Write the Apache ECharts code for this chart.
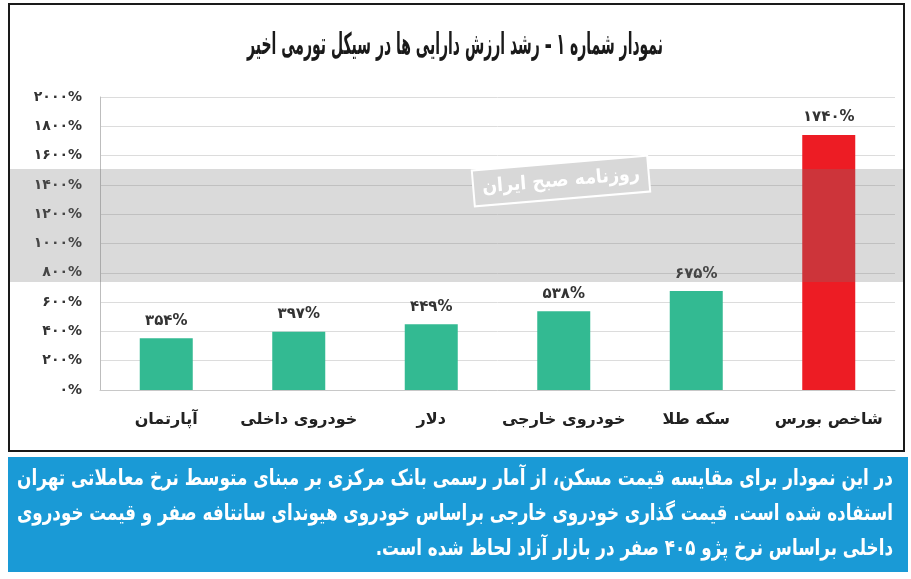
<!DOCTYPE html>
<html>
<head>
<meta charset="utf-8">
<script src="https://cdn.jsdelivr.net/npm/echarts@6/dist/echarts.min.js"></script>
<style>
html,body{margin:0;padding:0;background:#fff;}
#c{width:911px;height:579px;}
</style>
</head>
<body>
<div id="c" dir="rtl"></div>
<script>
const categories = ['آپارتمان', 'خودروی داخلی', 'دلار', 'خودروی خارجی', 'سکه طلا', 'شاخص بورس'];
const values = [354, 397, 449, 538, 675, 1740];
const barColors = ['#33BA92', '#33BA92', '#33BA92', '#33BA92', '#33BA92', '#ED1C24'];
const yMin = 0, yMax = 2000, yInterval = 200;
const titleText = 'نمودار شماره ۱ – رشد ارزش دارایی ها در سیکل تورمی اخیر';
const noteLines = [
  'در این نمودار برای مقایسه قیمت مسکن، از آمار رسمی بانک مرکزی بر مبنای متوسط نرخ معاملاتی تهران',
  'استفاده شده است. قیمت گذاری خودروی خارجی براساس خودروی هیوندای سانتافه صفر و قیمت خودروی',
  'داخلی براساس نرخ پژو ۴۰۵ صفر در بازار آزاد لحاظ شده است.'
];
const watermarkText = 'روزنامه صبح ایران';

const FA = '۰۱۲۳۴۵۶۷۸۹';
function toFa(n){ return String(n).replace(/[0-9]/g, d => FA[+d]); }

const FONT = '"DejaVu Sans", sans-serif';
const mctx = document.createElement('canvas').getContext('2d');
function measure(text, size, weight){
  mctx.font = weight + ' ' + size + 'px ' + FONT;
  return mctx.measureText(text).width;
}

const noteSize = 22;
const noteTargets = [876, 876, null];
const noteYs = [479, 514, 549];
let noteScale0 = 1;
const noteGraphics = noteLines.map((t, i) => {
  const w = measure(t, noteSize, 'bold');
  let s;
  if (noteTargets[i]) { s = noteTargets[i] / w; noteScale0 = s; } else { s = noteScale0; }
  return {
    type: 'text', x: 893, y: noteYs[i], scaleX: s, z: 20,
    style: { text: t, x: 0, y: 0, align: 'right', verticalAlign: 'middle',
      fontSize: noteSize, fontWeight: 'bold', fontFamily: FONT, fill: '#ffffff' }
  };
});

const titleSize = 30;
const titleW = measure(titleText, titleSize, 'bold');
const titleScale = 416 / titleW;

const wmSize = 19;
const wmScale = Math.min(1, 158 / measure(watermarkText, wmSize, 'bold'));

const chart = echarts.init(document.getElementById('c'), null, {renderer: 'canvas'});
chart.setOption({
  backgroundColor: '#ffffff',
  animation: false,
  grid: { left: 100, right: 16, top: 97, bottom: 189 },
  xAxis: {
    type: 'category',
    data: categories,
    axisLine: { show: true, lineStyle: { color: '#c8c8c8', width: 1 } },
    axisTick: { show: false },
    axisLabel: { interval: 0, color: '#222', fontSize: 16, fontWeight: 'bold', fontFamily: FONT, margin: 22 }
  },
  yAxis: {
    type: 'value',
    min: yMin, max: yMax, interval: yInterval,
    axisLine: { show: true, lineStyle: { color: '#bdbdbd', width: 1 } },
    axisTick: { show: false },
    splitLine: { show: true, lineStyle: { color: '#dcdcdc', width: 1 } },
    axisLabel: { color: '#333', fontSize: 14, fontWeight: 'bold', fontFamily: FONT, margin: 18,
      formatter: v => toFa(v) + '%' }
  },
  series: [{
    type: 'bar',
    data: values.map((v, i) => ({ value: v, itemStyle: { color: barColors[i] } })),
    barWidth: '40%',
    label: { show: true, position: 'top', distance: 10, color: '#333', fontSize: 15,
      fontWeight: 'bold', fontFamily: FONT, formatter: p => toFa(p.value) + '%' }
  }],
  graphic: [
    { type: 'rect', shape: { x: 9, y: 4, width: 895, height: 447 }, z: 1,
      style: { fill: 'none', stroke: '#1a1a1a', lineWidth: 2 } },
    { type: 'text', x: 455, y: 46, scaleX: titleScale, z: 20,
      style: { text: titleText, x: 0, y: 0, align: 'center', verticalAlign: 'middle',
        fontSize: titleSize, fontWeight: 'bold', fontFamily: FONT, fill: '#1a1a1a' } },
    { type: 'rect', shape: { x: 10, y: 169, width: 893, height: 113 }, z: 50, silent: true,
      style: { fill: 'rgba(120,120,120,0.27)' } },
    { type: 'group', x: 561, y: 181, rotation: 0.085, z: 51, children: [
      { type: 'rect', shape: { x: -88, y: -18, width: 176, height: 36 }, z: 51,
        style: { fill: '#d8d8d8', stroke: '#ffffff', lineWidth: 2 } },
      { type: 'text', z: 52, scaleX: wmScale, style: { text: watermarkText, x: 0, y: 0, align: 'center', verticalAlign: 'middle',
        fontSize: wmSize, fontWeight: 'bold', fontFamily: FONT, fill: '#ffffff' } }
    ]},
    { type: 'rect', shape: { x: 8, y: 457, width: 900, height: 115 }, z: 10,
      style: { fill: '#1A9AD6' } }
  ].concat(noteGraphics)
});
</script>
</body>
</html>
